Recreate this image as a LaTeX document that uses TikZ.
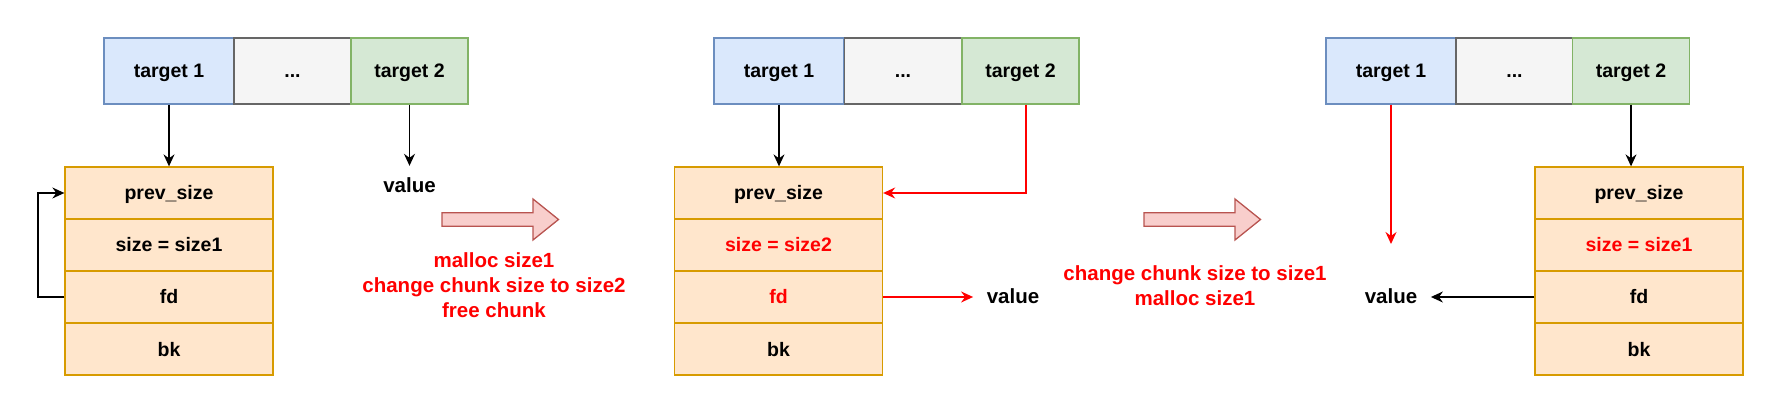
\documentclass[tikz,border=0pt]{standalone}
\usepackage{fontspec}
\setmainfont{Liberation Sans}
\usetikzlibrary{arrows.meta,calc}
\definecolor{bluefill}{HTML}{DAE8FC}
\definecolor{bluedraw}{HTML}{6C8EBF}
\definecolor{grayfill}{HTML}{F5F5F5}
\definecolor{graydraw}{HTML}{666666}
\definecolor{greenfill}{HTML}{D5E8D4}
\definecolor{greendraw}{HTML}{82B366}
\definecolor{orangefill}{HTML}{FFE6CC}
\definecolor{orangedraw}{HTML}{D79B00}
\definecolor{pinkfill}{HTML}{F8CECC}
\definecolor{pinkdraw}{HTML}{B85450}
\definecolor{redtext}{HTML}{FF0000}
\tikzset{
  cell/.style={draw, line width=1.3pt, minimum height=66pt, inner sep=0pt,
    text height=17pt, text depth=3pt, font=\fontsize{19.5}{23}\selectfont\bfseries},
  tone/.style={cell, fill=bluefill, draw=bluedraw, minimum width=130pt},
  tdots/.style={cell, fill=grayfill, draw=graydraw, minimum width=117pt},
  ttwo/.style={cell, fill=greenfill, draw=greendraw, minimum width=117pt},
  chunkrow/.style={draw=orangedraw, fill=orangefill, line width=1.3pt, minimum width=208pt,
    minimum height=52pt, inner sep=0pt, text height=17pt, text depth=3pt,
    font=\fontsize{19.5}{23}\selectfont\bfseries},
  val/.style={inner xsep=13.5pt, inner ysep=10pt, text height=17pt, text depth=3pt,
    font=\fontsize{20.5}{24}\selectfont\bfseries},
  note/.style={text=redtext, align=center, inner sep=0pt,
    font=\fontsize{20.5}{25}\selectfont\bfseries},
  arr/.style={-{Stealth[length=12pt,width=11pt,inset=4pt]}, line width=1.3pt, draw=black},
  redarr/.style={arr, draw=redtext},
  bigarrow/.style={draw=pinkdraw, fill=pinkfill, line width=1.3pt, line join=miter}
}
\begin{document}
\begin{tikzpicture}[x=1pt,y=-1pt]
\useasboundingbox (0,0) rectangle (1771,419);

% ---------------- Panel 1 ----------------
\node[tone]  (a1) at (169,71)   {target 1};
\node[tdots] (a2) at (292.5,71) {...};
\node[ttwo]  (a3) at (409.5,71) {target 2};
\node[chunkrow] (aprev) at (169,193) {prev\_size};
\node[chunkrow] (asize) at (169,245) {size = size1};
\node[chunkrow] (afd)   at (169,297) {fd};
\node[chunkrow] (abk)   at (169,349) {bk};
\node[val] (aval) at (409.5,186) {value};
\draw[arr] (a1.south) -- (aprev.north);
\draw[arr] (a3.south) -- (aval.north);
\draw[arr] (afd.west) -- ++(-26.5,0) |- (aprev.west);
\draw[bigarrow, shift={(442,219.5)}] (0,-6.75) -- (91,-6.75) -- (91,-20.5) -- (116.5,0)
  -- (91,20.5) -- (91,6.75) -- (0,6.75) -- cycle;
\node[note] (anote) at (494,285) {malloc size1\\change chunk size to size2\\free chunk};

% ---------------- Panel 2 ----------------
\node[tone]  (b1) at (779,71)    {target 1};
\node[tdots] (b2) at (903,71)    {...};
\node[ttwo]  (b3) at (1020.5,71) {target 2};
\node[chunkrow] (bprev) at (778.5,193) {prev\_size};
\node[chunkrow] (bsize) at (778.5,245) {\textcolor{redtext}{size = size2}};
\node[chunkrow] (bfd)   at (778.5,297) {\textcolor{redtext}{fd}};
\node[chunkrow] (bbk)   at (778.5,349) {bk};
\node[val] (bval) at (1013,297) {value};
\draw[arr] (b1.south) -- (b1.south |- bprev.north);
\draw[redarr] ($(b3.south)+(5.5,0)$) |- (bprev.east);
\draw[redarr] (bfd.east) -- (bval.west);
\draw[bigarrow, shift={(1144,219.5)}] (0,-6.75) -- (91,-6.75) -- (91,-20.5) -- (116.5,0)
  -- (91,20.5) -- (91,6.75) -- (0,6.75) -- cycle;
\node[note] (bnote) at (1195,286) {change chunk size to size1\\malloc size1};

% ---------------- Panel 3 ----------------
\node[tone]  (c1) at (1391,71)   {target 1};
\node[tdots] (c2) at (1514.5,71) {...};
\node[ttwo]  (c3) at (1631,71)   {target 2};
\node[chunkrow] (cprev) at (1639,193) {prev\_size};
\node[chunkrow] (csize) at (1639,245) {\textcolor{redtext}{size = size1}};
\node[chunkrow] (cfd)   at (1639,297) {fd};
\node[chunkrow] (cbk)   at (1639,349) {bk};
\node[val] (cval) at (1391,297) {value};
\coordinate (cend) at (1391,244);
\draw[redarr] (c1.south) -- (cend);
\draw[arr] (c3.south) -- (c3.south |- cprev.north);
\draw[arr] (cfd.west) -- (cval.east);
\end{tikzpicture}
\end{document}
